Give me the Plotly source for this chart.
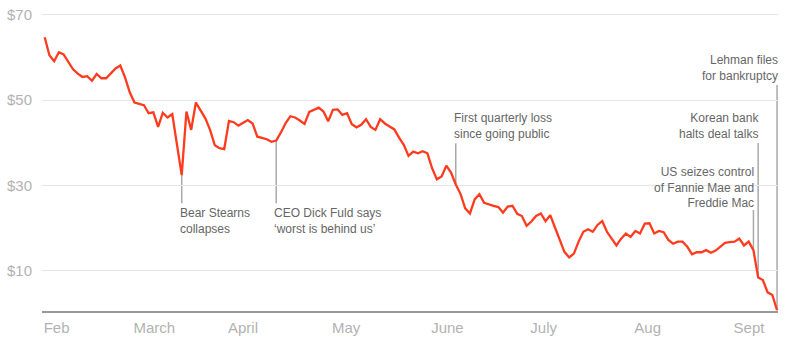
import plotly.graph_objects as go

# Lehman Brothers daily closing price, Feb 4 - Sept 15, 2008 (one value per trading day)
price = [
    64.7, 60.5, 59.1, 61.2, 60.7, 58.8, 57.2, 56.2, 55.4, 55.6,
    54.5, 56.1, 55.1, 55.1, 56.3, 57.4, 58.1, 55.3, 51.8, 49.4,
    49.1, 48.8, 46.9, 47.1, 43.7, 47.0, 45.9, 46.7, 39.5, 32.4,
    47.3, 43.0, 49.4, 47.5, 45.7, 43.0, 39.4, 38.7, 38.5, 45.1,
    44.8, 44.0, 44.7, 45.3, 44.5, 41.4, 41.1, 40.8, 40.2, 40.5,
    42.4, 44.6, 46.2, 45.9, 45.2, 44.4, 47.2, 47.7, 48.2, 47.3,
    45.0, 47.7, 47.8, 46.5, 46.9, 44.3, 43.6, 44.2, 45.5, 43.7,
    43.0, 45.5, 44.5, 43.8, 43.1, 41.2, 39.5, 36.9, 37.9, 37.5,
    38.0, 37.5, 34.0, 31.4, 32.1, 34.6, 33.0, 30.2, 28.0, 24.6,
    23.4, 26.7, 27.9, 25.9, 25.5, 25.2, 24.9, 23.6, 25.0, 25.2,
    23.3, 22.8, 20.5, 21.5, 22.8, 23.4, 21.6, 23.0, 20.1, 17.0,
    14.4, 13.1, 14.0, 16.8, 19.1, 19.7, 19.1, 20.7, 21.6, 19.1,
    17.6, 15.9, 17.5, 18.7, 17.9, 19.3, 18.7, 21.0, 21.1, 18.7,
    19.3, 19.0, 17.2, 16.3, 16.8, 16.8, 15.6, 13.8, 14.3, 14.3,
    14.8, 14.2, 14.7, 15.5, 16.5, 16.7, 16.8, 17.5, 15.9, 16.8,
    14.8, 8.4, 7.8, 4.9, 4.3, 0.7,
]

# first trading day of each month (index into price)
month_start = [0, 19, 39, 61, 82, 103, 125, 146]
month_names = ["Feb", "March", "April", "May", "June", "July", "Aug", "Sept"]

price_ticks = [10, 30, 50, 70]
price_labels = ["$10", "$30", "$50", "$70"]

# key events: trading-day index and caption
event_idx = [29, 49, 87, 150, 151, 155]
event_text = [
    "Bear Stearns<br>collapses",
    "CEO Dick Fuld says<br>‘worst is behind us’",
    "First quarterly loss<br>since going public",
    "US seizes control<br>of Fannie Mae and<br>Freddie Mac",
    "Korean bank<br>halts deal talks",
    "Lehman files<br>for bankruptcy",
]

# caption placement: (stem end, caption centre, side)
event_style = [
    (25.8, 21.75, "left"),
    (25.8, 21.75, "left"),
    (39.85, 43.9, "left"),
    (24.2, 29.5, "right"),
    (39.9, 43.95, "right"),
    (53.5, 57.5, "right"),
]

FONT = "Liberation Sans, Arial, Helvetica, sans-serif"
LINE_RED = "#ff3b1f"
AXIS_GREY = "#b2b2b2"

fig = go.Figure()
fig.add_trace(go.Scatter(
    x=list(range(len(price))),
    y=price,
    mode="lines",
    line=dict(color=LINE_RED, width=2.3),
    hoverinfo="skip",
    showlegend=False,
))

shapes = []
annotations = []
for idx, text, (stem_end, text_y, side) in zip(event_idx, event_text, event_style):
    shapes.append(dict(
        type="line", xref="x", yref="y",
        x0=idx, x1=idx, y0=price[idx], y1=stem_end,
        line=dict(color="#a9a9a9", width=1.5),
        layer="below",
    ))
    annotations.append(dict(
        x=idx, y=text_y, xref="x", yref="y",
        text=text, showarrow=False,
        xanchor=side, yanchor="middle", align=side,
        xshift=-4 if side == "left" else 3,
        font=dict(family=FONT, size=12, color="#666666"),
    ))

fig.update_layout(
    width=790, height=344,
    margin=dict(l=42, r=12, t=13, b=33),
    paper_bgcolor="white", plot_bgcolor="white",
    font=dict(family=FONT),
    shapes=shapes,
    annotations=annotations,
    xaxis=dict(
        range=[-0.57, 155.2],
        automargin=False,
        showgrid=False, zeroline=False,
        showline=True, linecolor="#999999", linewidth=2,
        tickmode="array", tickvals=month_start, ticktext=month_names,
        ticks="", ticklabelposition="outside right",
        ticklabelshift=-2, ticklabelstandoff=2,
        tickfont=dict(family=FONT, size=15, color=AXIS_GREY),
    ),
    yaxis=dict(
        range=[0.53, 70.4],
        automargin=False,
        showgrid=True, gridcolor="#e6e6e6", gridwidth=1,
        zeroline=False, showline=False,
        tickmode="array", tickvals=price_ticks, ticktext=price_labels,
        ticks="", ticklabelstandoff=9,
        tickfont=dict(family=FONT, size=15, color=AXIS_GREY),
    ),
)

fig.write_html("out.html")
